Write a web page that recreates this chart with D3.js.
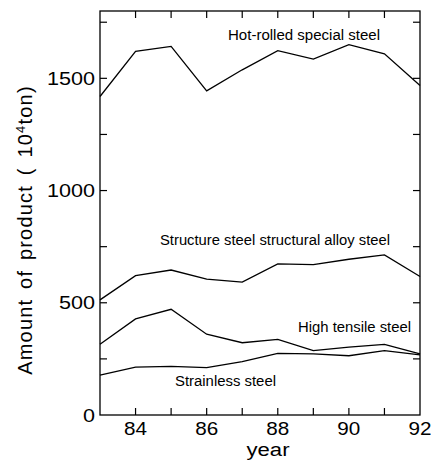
<!DOCTYPE html>
<html>
<head>
    <meta charset="utf-8">
    <title>Steel products</title>
    <script src="https://d3js.org/d3.v7.min.js"></script>
    <style>
    body { margin: 0; background: #fff; }
    svg text { font-family: "Liberation Sans", Arial, sans-serif; fill: #000; }
    </style>
</head>
<body>
<script>
// data (unit: 10^4 ton)
var years = [83, 84, 85, 86, 87, 88, 89, 90, 91, 92];
var hotRolled = [1419, 1620, 1642, 1444, 1538, 1623, 1586, 1650, 1609, 1468];
var structure = [513, 621, 646, 605, 592, 673, 670, 694, 713, 617];
var highTensile = [315, 428, 471, 360, 322, 337, 287, 302, 315, 272];
var stainless = [178, 213, 217, 211, 238, 275, 272, 264, 287, 268];
var seriesNames = ["Hot-rolled special steel", "Structure steel structural alloy steel",
                   "High tensile steel", "Strainless steel"];
var yTickValues = [0, 500, 1000, 1500];
var xTickValues = [84, 86, 88, 90, 92];

var W = 431, H = 461;
var svg = d3.select("body").append("svg")
    .attr("width", W)
    .attr("height", H);

var x = d3.scaleLinear().domain([83, 92]).range([100, 420]);
var y = d3.scaleLinear().domain([0, 1800]).range([415, 11]);

// frame
svg.append("rect")
    .attr("x", x(83)).attr("y", y(1800))
    .attr("width", x(92) - x(83)).attr("height", y(0) - y(1800))
    .attr("fill", "none").attr("stroke", "#000").attr("stroke-width", 1.3);

var tickLen = 7;
var minorX = d3.range(84, 92);
var minorY = d3.range(250, 1800, 250);

// inward ticks on all four sides
svg.selectAll(".tb").data(minorX).enter().append("line")
    .attr("x1", d => x(d)).attr("x2", d => x(d))
    .attr("y1", y(0)).attr("y2", y(0) - tickLen)
    .attr("stroke", "#000").attr("stroke-width", 1.2);
svg.selectAll(".tt").data(minorX).enter().append("line")
    .attr("x1", d => x(d)).attr("x2", d => x(d))
    .attr("y1", y(1800)).attr("y2", y(1800) + tickLen)
    .attr("stroke", "#000").attr("stroke-width", 1.2);
svg.selectAll(".tl").data(minorY).enter().append("line")
    .attr("x1", x(83)).attr("x2", x(83) + tickLen)
    .attr("y1", d => y(d)).attr("y2", d => y(d))
    .attr("stroke", "#000").attr("stroke-width", 1.2);
svg.selectAll(".tr").data(minorY).enter().append("line")
    .attr("x1", x(92)).attr("x2", x(92) - tickLen)
    .attr("y1", d => y(d)).attr("y2", d => y(d))
    .attr("stroke", "#000").attr("stroke-width", 1.2);

// tick labels (the scan is a bit wide, so stretch the glyphs)
svg.selectAll(".yl").data(yTickValues).enter().append("text")
    .attr("x", x(83) - 5)
    .attr("y", d => y(d))
    .attr("dy", "0.35em")
    .attr("text-anchor", "end")
    .attr("textLength", d => String(d).length * 12)
    .attr("lengthAdjust", "spacingAndGlyphs")
    .style("font-size", "19px")
    .text(d => d);
svg.selectAll(".xl").data(xTickValues).enter().append("text")
    .attr("x", d => x(d))
    .attr("y", 435)
    .attr("text-anchor", "middle")
    .attr("textLength", 23)
    .attr("lengthAdjust", "spacingAndGlyphs")
    .style("font-size", "19px")
    .text(d => d);

// axis titles
svg.append("text")
    .attr("x", 268).attr("y", 456)
    .attr("text-anchor", "middle")
    .attr("textLength", 43)
    .attr("lengthAdjust", "spacingAndGlyphs")
    .style("font-size", "18px")
    .text("year");

var yt = svg.append("text")
    .attr("transform", "translate(32,230) rotate(-90)")
    .attr("text-anchor", "middle")
    .style("font-size", "20px")
    .style("letter-spacing", "1.2px")
    .style("word-spacing", "3px");
yt.append("tspan").text("Amount of product ( 10");
yt.append("tspan").attr("dy", -7).style("font-size", "13px").text("4");
yt.append("tspan").attr("dy", 7).text("ton)");

// lines
var line = d3.line()
    .x((d, i) => x(years[i]))
    .y(d => y(d));
[hotRolled, structure, highTensile, stainless].forEach(function(s) {
    svg.append("path")
        .attr("d", line(s))
        .attr("fill", "none")
        .attr("stroke", "#000")
        .attr("stroke-width", 1.3);
});

// series labels: [left x, baseline y, width]
var labelPos = [[228, 40, 152], [160, 245, 230], [298, 332, 113], [175, 386, 101]];
svg.selectAll(".sl").data(seriesNames).enter().append("text")
    .attr("x", (d, i) => labelPos[i][0])
    .attr("y", (d, i) => labelPos[i][1])
    .attr("textLength", (d, i) => labelPos[i][2])
    .attr("lengthAdjust", "spacingAndGlyphs")
    .style("font-size", "14px")
    .text(d => d);
</script>
</body>
</html>
